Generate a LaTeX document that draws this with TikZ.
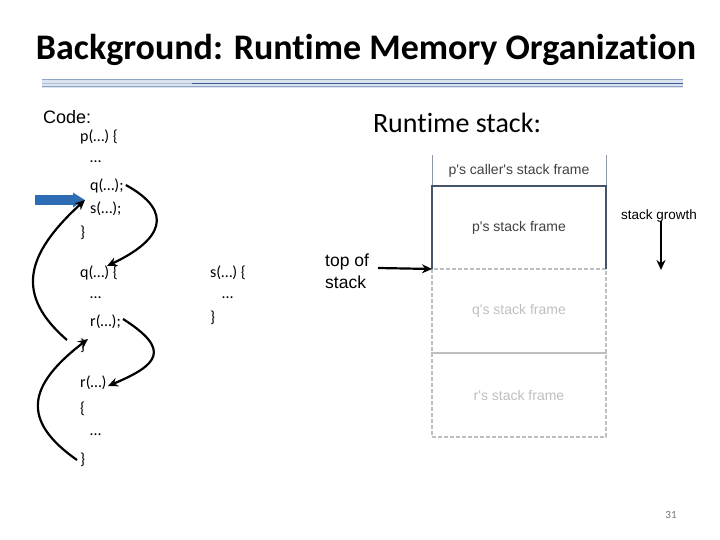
\documentclass[tikz,border=0pt]{standalone}
\usepackage{fontspec}
\setmainfont{Carlito}[Ligatures=NoCommon]
\newfontfamily\arialfont{Liberation Sans}
\usetikzlibrary{arrows.meta,positioning}
\definecolor{slideblue}{HTML}{2E6DB4}
\definecolor{framedark}{HTML}{44546A}
\definecolor{framegray}{HTML}{BFBFBF}
\definecolor{barlight}{HTML}{DCE3F0}
\definecolor{barmid}{HTML}{8EA3C4}
\definecolor{bardark}{HTML}{3A5C94}
\tikzset{
  codeline/.style ={anchor=west,inner sep=0pt,font=\fontsize{16}{19}\selectfont},
  frame/.style    ={rectangle,minimum width=174pt,inner sep=0pt,outer sep=0pt,
                    font=\arialfont\fontsize{14}{16}\selectfont},
  oldframe/.style ={frame,text=black!75},
  newframe/.style ={frame,draw=framegray,text=framegray,line width=1.5pt,
                    dash pattern=on 4pt off 2pt},
  call/.style     ={line width=2.2pt,-{Stealth[length=10pt,width=9pt]}},
  >={Latex}
}

\begin{document}
\begin{tikzpicture}[x=1pt,y=-1pt]
\useasboundingbox (0,0) rectangle (720,540);

% -------- title --------
\node (title) at (366,50) {\fontsize{36}{40}\selectfont\bfseries Background: Runtime Memory Organization};
\fill[barlight] (42,79) rectangle (683,88);
\draw[barmid,line width=1pt] (42,80) -- (683,80);
\draw[barmid,line width=1pt] (42,87) -- (683,87);
\draw[barmid!70,line width=1.5pt] (42,83.5) -- (192,83.5);
\draw[bardark,line width=1.5pt] (192,83.5) -- (683,83.5);

% -------- code --------
\node[anchor=west,inner sep=0pt,font=\arialfont\fontsize{18}{21}\selectfont] (code) at (43,117) {Code:};

\node[codeline] (pdef)   at (80,137) {p(…) \{};
\node[codeline] (pdots)  at (90,162) {…};
\node[codeline] (pcallq) at (90,186) {q(…);};
\node[codeline] (pcalls) at (90,209) {s(…);};
\node[codeline] (pend)   at (80,233) {\}};

\node[codeline] (qdef)   at (80,273) {q(…) \{};
\node[codeline] (qdots)  at (90,298) {…};
\node[codeline] (qcallr) at (90,322) {r(…);};
\node[codeline] (qend)   at (80,346) {\}};

\node[codeline] (rdef)   at (80,383) {r(…)};
\node[codeline] (ropen)  at (80,409) {\{};
\node[codeline] (rdots)  at (90,435) {…};
\node[codeline] (rend)   at (80,460) {\}};

\node[codeline] (sdef)   at (210,273) {s(…) \{};
\node[codeline] (sdots)  at (222,298) {…};
\node[codeline] (send)   at (210,318) {\}};

% entry and return points
\coordinate (qentry) at (107,266);
\coordinate (rentry) at (108,386);
\coordinate (pret)   at (85,200);
\coordinate (qret)   at (88,339);
\coordinate (qexit)  at (67,340);
\coordinate (pc)     at (35,200);

% current position
\draw[slideblue,line width=10pt,-{Triangle[length=12pt,width=14pt]}] (pc) -- (pret);

% calls and returns
\draw[call] ([xshift=2pt,yshift=1pt]pcallq.east) .. controls (175,212) and (162,240) .. (qentry);
\draw[call] (qexit) .. controls (15,295) and (25,255) .. (pret);
\draw[call] ([xshift=2pt,yshift=3pt]qcallr.east) .. controls (172,350) and (158,365) .. (rentry);
\draw[call] ([xshift=-3pt]rend.west) .. controls (20,420) and (28,385) .. (qret);

% -------- runtime stack --------
\node[font=\fontsize{28}{32}\selectfont] (rtstack) at (457,123) {Runtime stack:};

\node[oldframe,minimum height=83pt] (pframe) at (519,227.5) {p's stack frame};
\node[oldframe,minimum height=31pt,above=0pt of pframe] (caller) {p's caller's stack frame};
\node[newframe,minimum height=84pt,below=0pt of pframe] (qframe) {q's stack frame};
\node[newframe,minimum height=84pt,below=0pt of qframe] (rframe) {r's stack frame};

\draw[framedark!60,line width=0.8pt] (caller.north west) -- (caller.south west);
\draw[framedark!60,line width=0.8pt] (caller.north east) -- (caller.south east);
\draw[framedark,line width=1.5pt] (pframe.south west) -- (pframe.north west) -- (pframe.north east) -- (pframe.south east);

% -------- top of stack / growth --------
\node[anchor=west,align=left,inner sep=0pt,font=\arialfont\fontsize{17.5}{22}\selectfont] (tos) at (325,271) {top of\\stack};
\coordinate (tosstart) at (378,268);
\draw[call] (tosstart) -- (pframe.south west);

\node[font=\arialfont\fontsize{13.5}{16}\selectfont] (growth) at (659,216) {stack growth};
\coordinate (growthend) at (661,270);
\draw[call] ([xshift=2pt,yshift=5pt]growth.south) -- (growthend);

% -------- page number --------
\node[text=black!55,font=\fontsize{11}{13}\selectfont] (pagenum) at (671,515) {31};

\end{tikzpicture}
\end{document}
